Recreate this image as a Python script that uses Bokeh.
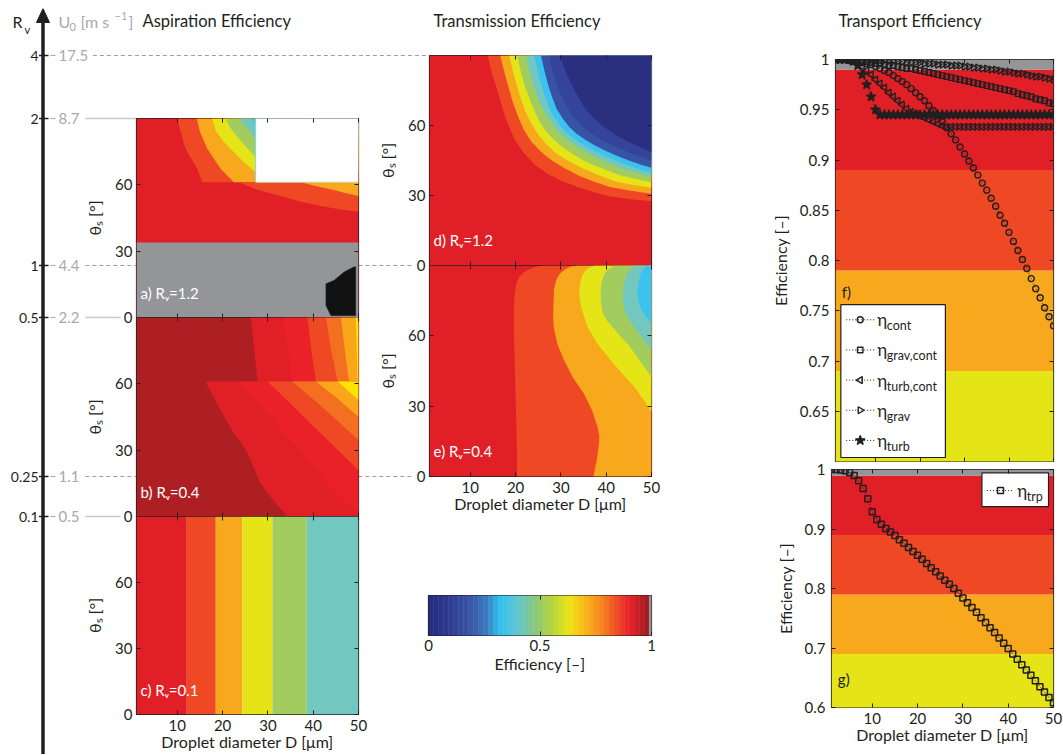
import math
from bokeh.plotting import figure
from bokeh.models import Range1d, FixedTicker, LinearAxis, CustomJSTickFormatter
from bokeh.core.properties import value
from bokeh.embed import file_html
from bokeh.resources import INLINE

FONT = "Lato"
INK = "#231F20"

# ============================ DATA ============================
D = list(range(1, 51))  # droplet diameter samples [um]

eta_cont = [1.000, 1.000, 1.000, 0.999, 0.999, 0.998, 0.997, 0.996, 0.995, 0.993,
            0.991, 0.989, 0.987, 0.984, 0.981, 0.978, 0.975, 0.971, 0.967, 0.963,
            0.959, 0.954, 0.949, 0.944, 0.938, 0.932, 0.926, 0.920, 0.913, 0.906,
            0.899, 0.892, 0.885, 0.877, 0.870, 0.862, 0.854, 0.845, 0.837, 0.828,
            0.819, 0.810, 0.801, 0.792, 0.782, 0.772, 0.763, 0.753, 0.744, 0.735]
eta_grav_cont = [1.000, 1.000, 1.000, 0.999, 0.999, 0.999, 0.998, 0.998, 0.997, 0.996,
                 0.996, 0.995, 0.994, 0.994, 0.993, 0.992, 0.991, 0.991, 0.990, 0.989,
                 0.988, 0.987, 0.986, 0.985, 0.984, 0.983, 0.982, 0.981, 0.980, 0.979,
                 0.978, 0.977, 0.976, 0.975, 0.974, 0.973, 0.972, 0.971, 0.970, 0.969,
                 0.968, 0.966, 0.965, 0.964, 0.963, 0.961, 0.960, 0.959, 0.957, 0.956]
eta_turb_cont = [1.000, 1.000, 1.000, 1.000, 0.999, 0.997, 0.993, 0.989, 0.985, 0.980,
                 0.976, 0.972, 0.967, 0.963, 0.959, 0.955, 0.951, 0.948, 0.946, 0.944,
                 0.942, 0.940, 0.938, 0.936, 0.934, 0.933, 0.933, 0.933, 0.933, 0.933,
                 0.933, 0.933, 0.933, 0.933, 0.933, 0.933, 0.933, 0.933, 0.933, 0.933,
                 0.933, 0.933, 0.933, 0.933, 0.933, 0.933, 0.933, 0.933, 0.933, 0.933]
eta_grav = [1.000, 1.000, 1.000, 1.000, 1.000, 1.000, 0.999, 0.999, 0.999, 0.999,
            0.999, 0.999, 0.998, 0.998, 0.998, 0.998, 0.997, 0.997, 0.997, 0.997,
            0.996, 0.996, 0.996, 0.995, 0.995, 0.995, 0.994, 0.994, 0.994, 0.993,
            0.993, 0.992, 0.992, 0.991, 0.991, 0.990, 0.990, 0.989, 0.988, 0.988,
            0.987, 0.986, 0.986, 0.985, 0.984, 0.983, 0.983, 0.982, 0.981, 0.980]
eta_turb = [1.000, 1.000, 1.000, 1.000, 0.998, 0.994, 0.985, 0.975, 0.963, 0.950,
            0.945, 0.945, 0.945, 0.945, 0.945, 0.945, 0.945, 0.945, 0.945, 0.945,
            0.945, 0.945, 0.945, 0.945, 0.945, 0.945, 0.945, 0.945, 0.945, 0.945,
            0.945, 0.945, 0.945, 0.945, 0.945, 0.945, 0.945, 0.945, 0.945, 0.945,
            0.945, 0.945, 0.945, 0.945, 0.945, 0.945, 0.945, 0.945, 0.945, 0.945]
eta_trp = [1.000, 1.000, 0.999, 0.998, 0.995, 0.990, 0.981, 0.968, 0.951, 0.929,
           0.916, 0.908, 0.901, 0.895, 0.889, 0.882, 0.876, 0.869, 0.862, 0.856,
           0.849, 0.842, 0.835, 0.828, 0.821, 0.814, 0.807, 0.800, 0.792, 0.784,
           0.776, 0.768, 0.760, 0.751, 0.743, 0.734, 0.726, 0.717, 0.708, 0.699,
           0.690, 0.681, 0.672, 0.663, 0.654, 0.645, 0.635, 0.626, 0.617, 0.608]

D_LIM = (1, 50)
THETA_LIM = (0, 90)
EFF_LIM = (0.6, 1.0)
x_ticks = [10, 20, 30, 40, 50]
theta_ticks = [0, 30, 60]
eff_ticks_f = [0.65, 0.7, 0.75, 0.8, 0.85, 0.9, 0.95, 1.0]
eff_ticks_g = [0.6, 0.7, 0.8, 0.9, 1.0]
cbar_ticks = [0, 0.5, 1]

# contour levels of efficiency used as background of the transport panels
eff_levels = [0.59, 0.69, 0.79, 0.89, 0.99, 1.00]

# left R_v / U_0 scale
rv_labels = ["4", "2", "1", "0.5", "0.25", "0.1"]
u0_labels = ["17.5", "8.7", "4.4", "2.2", "1.1", "0.5"]

# panel c (R_v=0.1): band edges along D
c_edges = [12.1, 18.5, 24.4, 31.0, 38.6]

# panel a (R_v=1.2): contour boundaries (D, theta)
a_kink = 61.2
a_gray_top = 33.9
a_white_left = 27.3
a_upper = [
    [(10.0, 90), (10.6, 85), (11.8, 76.4), (14.4, 67.2), (15.5, 61.2)],
    [(14.3, 90), (15.0, 84), (16.6, 76.4), (19.6, 67.2), (22.5, 61.2)],
    [(17.7, 90), (18.5, 84.5), (20.3, 79.4), (24.7, 70.2), (27.3, 65.7)],
    [(20.7, 90), (21.6, 86), (22.9, 82.5), (25.5, 76.4), (27.3, 72.6)],
    [(23.6, 90), (25.5, 85.5), (27.3, 81.0)],
    [(26.2, 90), (27.3, 87.8)],
]
a_lower = [
    [(23.6, 61.2), (28.0, 57.5), (32.8, 55.0), (37.0, 52.5), (41.7, 50.4), (46.0, 48.8), (50, 47.8)],
    [(37.2, 61.2), (40.5, 59.5), (43.9, 58.0), (47.0, 56.3), (50, 55.0)],
]
a_blob = [(42.8, 15.3), (44.6, 16.8), (46.8, 20.6), (49.0, 22.9), (49.4, 22.9),
          (49.4, 0.8), (43.9, 0.8), (42.8, 5.4)]

# panel b (R_v=0.4)
b_upper = [
    [(26.2, 90), (27.0, 75), (27.7, 61)],
    [(33.2, 90), (34.3, 75), (35.4, 61)],
    [(38.7, 90), (39.6, 75), (40.6, 61)],
    [(42.8, 90), (44.0, 75), (45.4, 61)],
    [(46.1, 90), (47.0, 75), (47.9, 61)],
    [(49.4, 90), (49.6, 75), (49.8, 61)],
]
b_lower = [
    [(16.2, 61), (19.0, 50), (22.5, 37.6), (25.2, 30), (28.4, 14.9), (31.3, 7), (34.3, 0)],
    [(23.6, 61), (27.5, 52), (33.6, 37.6), (38.0, 28), (42.4, 16.4), (46.5, 8), (50, 1.2)],
    [(29.9, 61), (34.0, 53), (40.9, 39.1), (45.5, 30), (50, 20.9)],
    [(35.4, 61), (40.0, 53), (45.0, 44), (50, 34.5)],
    [(40.6, 61), (45.0, 54), (50, 45.0)],
    [(45.4, 61), (50, 52.7)],
]

# panel d (transmission, R_v=1.2)
d_curves = [
    [(13.8, 90), (14.8, 82), (16.0, 75), (17.0, 68), (18.2, 61), (19.8, 54), (21.9, 48), (24.2, 43.3),
     (27.0, 39.3), (30.2, 36.2), (33.7, 33.6), (37.3, 31.4), (41.0, 29.6), (45.5, 28.4), (50, 27.5)],
    [(16.6, 90), (17.5, 83), (18.5, 76), (19.4, 70), (20.5, 64), (21.8, 58.3), (23.5, 53), (25.6, 48.7),
     (28.0, 45), (31.0, 41.5), (34.0, 38.5), (37.5, 35.8), (41.0, 33.5), (45.5, 32), (50, 30.8)],
    [(18.6, 90), (19.4, 83.5), (20.3, 77), (21.2, 71.3), (22.2, 66), (23.5, 60.8), (25.0, 56), (26.9, 51.8),
     (29.0, 48), (31.9, 44.5), (35.0, 41.5), (38.5, 38.6), (42.0, 36.0), (46.0, 34.5), (50, 33.3)],
    [(20.4, 90), (21.1, 83.5), (22.0, 77), (23.0, 71.8), (24.0, 67), (25.1, 62.3), (26.5, 58), (28.4, 54),
     (30.5, 50.5), (33.1, 47.1), (36.0, 44), (39.5, 41.2), (43.0, 38.7), (46.5, 37.1), (50, 35.7)],
    [(22.3, 90), (23.0, 84), (23.8, 78), (24.7, 72.9), (25.8, 68), (27.1, 63.6), (28.5, 59.5), (30.1, 56),
     (32.0, 53), (34.4, 49.9), (37.0, 47), (40.2, 44.1), (43.5, 41.5), (46.8, 39.6), (50, 37.9)],
    [(24.1, 90), (24.8, 84), (25.6, 78), (26.5, 72.4), (27.5, 67), (28.7, 63), (30.0, 59.5), (31.6, 56.3),
     (33.5, 53.5), (35.6, 50.9), (38.0, 48.5), (41.0, 45.9), (44.0, 43.5), (47.0, 41.5), (50, 39.7)],
    [(25.6, 90), (26.3, 84), (27.1, 78), (28.0, 72.4), (29.1, 67), (30.4, 63), (31.8, 59.5), (33.4, 56.6),
     (35.3, 54), (37.3, 51.6), (39.5, 49.5), (42.2, 47.1), (45.0, 45), (47.5, 43.3), (50, 41.9)],
    [(27.4, 90), (28.1, 84), (29.0, 78), (30.1, 72.8), (31.3, 68), (32.7, 64), (34.2, 60.5), (36.0, 57.6),
     (38.0, 55), (40.2, 52.6), (42.5, 50.5), (46.2, 47.6), (50, 45.0)],
    [(29.8, 90), (30.8, 84.5), (32.0, 79), (33.5, 73.4), (35.1, 68), (36.7, 64.2), (38.5, 61), (40.2, 58.4),
     (42.0, 56), (44.0, 53.9), (46.0, 52), (48.0, 50.2), (50, 48.5)],
]

# panel e (transmission, R_v=0.4)
e_curves = [
    [(26.3, 90), (24.7, 89.6), (23.4, 88.7), (21.9, 87.2), (20.8, 85.2), (20.1, 82), (19.8, 78), (19.6, 71),
     (19.6, 64), (19.7, 57), (19.8, 50), (19.9, 42), (20.0, 35), (20.1, 27), (20.2, 20), (20.3, 10), (20.3, 0)],
    [(34.0, 90), (32.3, 89.6), (31.0, 88.5), (29.8, 86.6), (29.0, 84), (28.5, 80), (28.4, 75), (28.3, 69.5),
     (28.4, 64), (29.2, 56.5), (30.7, 49.6), (32.7, 42), (35.1, 35.3), (36.9, 28), (38.1, 21.1), (38.5, 17),
     (38.4, 14), (38.0, 8), (37.5, 3), (37.2, 0)],
    [(37.5, 90), (36.3, 89.2), (35.5, 88), (34.7, 85.7), (34.3, 83), (34.0, 78), (34.5, 72), (35.9, 63.8),
     (38.1, 56.5), (41.0, 49.6), (43.6, 43.7), (46.2, 38.3), (48.2, 32.8), (50, 27.5)],
    [(42.0, 90), (40.7, 88.8), (39.8, 87), (39.1, 83.8), (38.8, 80), (38.8, 75), (39.2, 70), (40.1, 66.7),
     (41.4, 63.8), (43.1, 59.8), (45.0, 56), (47.5, 49.2), (50, 42.4)],
    [(46.5, 90), (45.3, 88.3), (44.5, 86), (43.9, 82.2), (43.6, 78), (43.7, 74), (44.2, 70), (45.2, 66.3),
     (46.5, 63), (48.2, 58.4), (50, 53.8)],
    [(49.0, 90), (48.1, 88.3), (47.5, 86), (47.1, 82.2), (46.9, 78), (47.2, 74.3), (47.8, 71), (48.8, 68),
     (50, 65.3)],
]

panel_tags = ["a) R\u1d65=1.2", "b) R\u1d65=0.4", "c) R\u1d65=0.1", "d) R\u1d65=1.2", "e) R\u1d65=0.4"]
f_legend = ["cont", "grav,cont", "turb,cont", "grav", "turb"]
g_legend = ["trp"]
titles = ["Aspiration Efficiency", "Transmission Efficiency", "Transport Efficiency"]

# ============================ STYLE ============================
RED, ORED, ORANGE, YELLOW = "#E01F26", "#EE4824", "#F8A81D", "#E5E417"
GREEN, TEAL, CYAN = "#A3CC5E", "#72C8C0", "#3BC2EE"
BLUE, BLUE2, NAVY = "#3953A4", "#33449A", "#2B2F7F"
GRAY, DARKRED, BRED = "#939598", "#AE1F24", "#EA2128"
ORANGE2, OYELLOW, BYELLOW = "#F37021", "#F9A61B", "#FFE400"
eff_colors = [YELLOW, ORANGE, ORED, RED, GRAY]

cb_stops = [0.00, 0.08, 0.18, 0.26, 0.32, 0.40, 0.48, 0.56, 0.63, 0.70, 0.77, 0.84, 0.90, 0.95, 0.99]
cb_anchor = ["#252B7B", "#2C388D", "#3953A4", "#3B79BE", "#2FC1EF", "#62C5D3", "#8BC77C", "#B9D53A",
             "#ECE61A", "#F9B81B", "#F58C20", "#F05024", "#E8222A", "#C11E26", "#961B1F"]

TICK_FS, LABEL_FS, TITLE_FS = "15px", "16px", "16.5px"

# ============================ LAYOUT (page pixels, inside the 8px body margin) ============================
MARGIN = 8
W, H = 1047, 746          # usable drawing area (bottom/right limits of the window)
X_LIMIT = 1054
AX_X = 34.5
LEFT_X, MID_X, RIGHT_X = 128, 421, 823
FW, FW_R = 222, 222
A_TOP, A_H = 110, 199
B_TOP, B_H = 309, 199
C_TOP, C_H = 508, 198
D_TOP, D_H = 47, 210
E_TOP, E_H = 257, 211
F_TOP, F_H = 51, 402
G_TOP, G_H = 461, 238
CB_X, CB_W, CB_TOP, CB_H = 420, 223, 587, 40


def hex_rgb(h):
    h = h.lstrip("#")
    return [int(h[i:i + 2], 16) for i in (0, 2, 4)]


def cmap(v):
    for i in range(len(cb_stops) - 1):
        if v <= cb_stops[i + 1]:
            t = (v - cb_stops[i]) / (cb_stops[i + 1] - cb_stops[i])
            c1, c2 = hex_rgb(cb_anchor[i]), hex_rgb(cb_anchor[i + 1])
            return "#%02x%02x%02x" % tuple(round(a + (b - a) * t) for a, b in zip(c1, c2))
    return cb_anchor[-1]


def abs_style(x, y):
    return {"position": "absolute", "left": "%dpx" % (x + MARGIN), "top": "%dpx" % (y + MARGIN)}


def style_axis(ax, ticks, show_labels=True, label=None, standoff=4, label_standoff=8, fmt=None):
    ax.ticker = FixedTicker(ticks=ticks)
    ax.major_tick_in = 4
    ax.major_tick_out = 0
    ax.minor_tick_line_color = None
    ax.axis_line_color = None
    ax.major_tick_line_color = INK
    ax.major_tick_line_width = 1
    ax.major_label_text_font = FONT
    ax.major_label_text_color = INK
    if show_labels:
        ax.major_label_text_font_size = TICK_FS
        ax.major_label_standoff = standoff
        if fmt is not None:
            ax.formatter = CustomJSTickFormatter(code=fmt)
    else:
        ax.major_label_text_font_size = "0px"
        ax.major_label_standoff = 0
        ax.formatter = CustomJSTickFormatter(code="return '';")
    if label:
        ax.axis_label = label
        ax.axis_label_text_font = FONT
        ax.axis_label_text_font_size = LABEL_FS
        ax.axis_label_text_font_style = "normal"
        ax.axis_label_text_color = INK
        ax.axis_label_standoff = label_standoff


def make_panel(fx, fy, fw, fh, xr, yr, lb=64, tb=12, rb=12, bb=12):
    p = figure(width=lb + fw + rb, height=tb + fh + bb, x_range=Range1d(*xr), y_range=Range1d(*yr),
               x_axis_location=None, y_axis_location=None, output_backend="svg",
               toolbar_location=None, min_border_left=lb, min_border_top=tb,
               min_border_right=rb, min_border_bottom=bb, styles=abs_style(fx - lb, fy - tb))
    p.border_fill_color = None
    p.background_fill_color = "white"
    p.outline_line_color = INK
    p.outline_line_width = 1.2
    p.grid.visible = False
    return p


def add_axes(p, xt, yt, xlab=False, ylab=True, xlabel=None, ylabel=None, yfmt=None,
             right=True, y_standoff=4, y_label_standoff=8, x_standoff=5, x_label_standoff=-2):
    ax = LinearAxis()
    style_axis(ax, yt, ylab, ylabel, standoff=y_standoff, label_standoff=y_label_standoff, fmt=yfmt)
    p.add_layout(ax, "left")
    if right:
        ax = LinearAxis()
        style_axis(ax, yt, False)
        p.add_layout(ax, "right")
    ax = LinearAxis()
    style_axis(ax, xt, xlab, xlabel, standoff=x_standoff, label_standoff=x_label_standoff)
    p.add_layout(ax, "below")
    ax = LinearAxis()
    style_axis(ax, xt, False)
    p.add_layout(ax, "above")


def add_regions(p, curves, colors):
    xs, ys = [], []
    for c in curves:
        xs.append([pt[0] for pt in c] + [D_LIM[1], D_LIM[1]])
        ys.append([pt[1] for pt in c] + [c[-1][1], c[0][1]])
    p.patches(xs=xs, ys=ys, fill_color=colors, line_color=None)


def add_tag(p, txt, x, y, color="white"):
    p.text(x=[x], y=[y], text=[txt], text_font=value(FONT), text_font_size="15px",
           text_color=color, text_align="left", text_baseline="middle")


THETA_LABEL = "\u03b8\u209b [\u00b0]"
D_LABEL = "Droplet diameter D [\u03bcm]"
E_LABEL = "Efficiency [\u2013]"

# ---------------- background / annotation layer ----------------
bg = figure(width=W, height=H, x_range=Range1d(0, W), y_range=Range1d(H, 0),
            x_axis_location=None, y_axis_location=None, output_backend="svg",
            toolbar_location=None, min_border_left=0, min_border_right=0,
            min_border_top=0, min_border_bottom=0, styles=abs_style(0, 0))
bg.outline_line_color = None
bg.grid.visible = False
bg.background_fill_color = "white"
bg.border_fill_color = "white"

rv_y = [D_TOP, A_TOP, E_TOP, B_TOP, E_TOP + E_H, C_TOP]
rv_dashed = [True, False, True, False, True, False]
rv_end = [MID_X, LEFT_X, MID_X - 17, LEFT_X - 16, MID_X - 17, LEFT_X - 16]
line_start = [50 + 7.6 * len(u) + 4 for u in u0_labels]

dsel = [i for i in range(6) if rv_dashed[i]]
ssel = [i for i in range(6) if not rv_dashed[i]]
bg.segment(x0=[line_start[i] for i in dsel], x1=[rv_end[i] for i in dsel],
           y0=[rv_y[i] for i in dsel], y1=[rv_y[i] for i in dsel],
           line_color="#9D9FA2", line_dash="4 3", line_width=1)
bg.segment(x0=[line_start[i] for i in ssel], x1=[rv_end[i] for i in ssel],
           y0=[rv_y[i] for i in ssel], y1=[rv_y[i] for i in ssel],
           line_color="#C7C8CA", line_width=1.4)
bg.segment(x0=[42] * 6, x1=[47] * 6, y0=rv_y, y1=rv_y, line_color="#A7A9AC", line_width=1.2)
bg.segment(x0=[30.5] * 6, x1=[40] * 6, y0=rv_y, y1=rv_y, line_color=INK, line_width=1.5)
bg.segment(x0=[AX_X], x1=[AX_X], y0=[10], y1=[H], line_color=INK, line_width=3.5)
bg.patch(x=[AX_X - 6.5, AX_X, AX_X + 6.5], y=[14, 0, 14], fill_color=INK, line_color=INK)
bg.text(x=[30] * 6, y=rv_y, text=rv_labels, text_font=value(FONT), text_font_size="14px",
        text_color=INK, text_align="right", text_baseline="middle")
bg.text(x=[50] * 6, y=rv_y, text=u0_labels, text_font=value(FONT), text_font_size="15px",
        text_color="#A7A9AC", text_align="left", text_baseline="middle")
bg.text(x=[4], y=[12.5], text=["R"], text_font=value(FONT), text_font_size="16px",
        text_color=INK, text_baseline="middle")
bg.text(x=[16], y=[21], text=["v"], text_font=value(FONT), text_font_size="11px",
        text_color=INK, text_baseline="middle")
hdr_gray = "#A7A9AC"
bg.text(x=[50, 72, 120], y=[12.5, 12.5, 12.5], text=["U", "[m s", "]"], text_font=value(FONT),
        text_font_size="16px", text_color=hdr_gray, text_baseline="middle")
bg.text(x=[61], y=[18.5], text=["0"], text_font=value(FONT), text_font_size="11px",
        text_color=hdr_gray, text_baseline="middle")
bg.text(x=[106], y=[7], text=["\u22121"], text_font=value(FONT), text_font_size="11px",
        text_color=hdr_gray, text_baseline="middle")
bg.text(x=[134, 425, 830], y=[12.5, 12.5, 12.5], text=titles, text_font=value(FONT),
        text_font_size=TITLE_FS, text_color=INK, text_baseline="middle")

# ---------------- panel a ----------------
pa = make_panel(LEFT_X, A_TOP, FW, A_H, D_LIM, THETA_LIM)
pa.quad(left=D_LIM[0], right=D_LIM[1], bottom=THETA_LIM[0], top=THETA_LIM[1], fill_color=RED, line_color=None)
add_regions(pa, a_upper, [ORED, ORANGE, YELLOW, GREEN, TEAL, CYAN])
add_regions(pa, a_lower, [ORED, ORANGE])
pa.quad(left=a_white_left, right=D_LIM[1], bottom=a_kink, top=THETA_LIM[1], fill_color="white", line_color=None)
# faint contour edges along the blank (undefined) area
pa.line([a_white_left, a_white_left], [THETA_LIM[1], a_kink], line_color="#7FD3E8", line_width=1)
pa.line([a_white_left, D_LIM[1]], [a_kink, a_kink], line_color="#C9DDB0", line_width=1)
pa.quad(left=D_LIM[0], right=D_LIM[1], bottom=THETA_LIM[0], top=a_gray_top, fill_color=GRAY, line_color=None)
pa.patch(x=[pt[0] for pt in a_blob], y=[pt[1] for pt in a_blob], fill_color="#111111",
         line_color="#333333", line_width=0.5)
add_tag(pa, panel_tags[0], 1.9, 11)
add_axes(pa, x_ticks, theta_ticks, ylabel=THETA_LABEL)

# ---------------- panel b ----------------
pb = make_panel(LEFT_X, B_TOP, FW, B_H, D_LIM, THETA_LIM)
pb.quad(left=D_LIM[0], right=D_LIM[1], bottom=THETA_LIM[0], top=THETA_LIM[1], fill_color=DARKRED, line_color=None)
b_cols = [RED, BRED, ORED, ORANGE2, OYELLOW, BYELLOW]
add_regions(pb, b_upper, b_cols)
add_regions(pb, b_lower, b_cols)
add_tag(pb, panel_tags[1], 1.9, 11)
add_axes(pb, x_ticks, theta_ticks, ylabel=THETA_LABEL)

# ---------------- panel c ----------------
pc = make_panel(LEFT_X, C_TOP, FW, C_H, D_LIM, THETA_LIM, bb=H - C_TOP - C_H)
c_left = [D_LIM[0]] + c_edges
c_right = c_edges + [D_LIM[1]]
pc.quad(left=c_left, right=c_right, bottom=THETA_LIM[0], top=THETA_LIM[1],
        fill_color=[RED, ORED, ORANGE, YELLOW, GREEN, TEAL], line_color=None)
add_tag(pc, panel_tags[2], 1.9, 11)
add_axes(pc, x_ticks, theta_ticks, xlab=True, xlabel=D_LABEL, ylabel=THETA_LABEL)

# ---------------- panel d ----------------
pd_ = make_panel(MID_X, D_TOP, FW, D_H, D_LIM, THETA_LIM)
pd_.quad(left=D_LIM[0], right=D_LIM[1], bottom=THETA_LIM[0], top=THETA_LIM[1], fill_color=RED, line_color=None)
add_regions(pd_, d_curves, [ORED, ORANGE, YELLOW, GREEN, TEAL, CYAN, BLUE, BLUE2, NAVY])
add_tag(pd_, panel_tags[3], 1.9, 11)
add_axes(pd_, x_ticks, theta_ticks, ylabel=THETA_LABEL)

# ---------------- panel e ----------------
pe = make_panel(MID_X, E_TOP, FW, E_H, D_LIM, THETA_LIM, bb=46)
pe.quad(left=D_LIM[0], right=D_LIM[1], bottom=THETA_LIM[0], top=THETA_LIM[1], fill_color=RED, line_color=None)
add_regions(pe, e_curves, [ORED, ORANGE, YELLOW, GREEN, TEAL, CYAN])
add_tag(pe, panel_tags[4], 1.9, 11)
add_axes(pe, x_ticks, theta_ticks, xlab=True, xlabel=D_LABEL, ylabel=THETA_LABEL)

# ---------------- colour bar ----------------
pcb = make_panel(CB_X, CB_TOP, CB_W, CB_H, (0, 1), (0, 1), lb=12, rb=12, bb=46)
n_cb = 44
w_cb = 0.99 / n_cb
cb_left = [i * w_cb for i in range(n_cb)] + [0.99]
cb_right = [(i + 1) * w_cb for i in range(n_cb)] + [1.0]
cb_cols = [cmap((i + 0.5) * w_cb) for i in range(n_cb)] + [GRAY]
pcb.quad(left=cb_left, right=cb_right, bottom=0, top=1, fill_color=cb_cols, line_color=cb_cols, line_width=0.5)
ax = LinearAxis()
style_axis(ax, cbar_ticks, True, E_LABEL, standoff=4, label_standoff=0,
           fmt="return String(Math.round(tick*100)/100);")
pcb.add_layout(ax, "below")
ax = LinearAxis()
style_axis(ax, [0.5], False)
pcb.add_layout(ax, "above")

# ---------------- panel f ----------------
EFMT = "return String(Math.round(tick*100)/100);"
pf = make_panel(RIGHT_X, F_TOP, FW_R, F_H, D_LIM, EFF_LIM, rb=X_LIMIT - RIGHT_X - FW_R)
pf.quad(left=D_LIM[0], right=D_LIM[1], bottom=eff_levels[:-1], top=eff_levels[1:],
        fill_color=eff_colors, line_color=None)
f_series = [eta_cont, eta_grav_cont, eta_turb_cont, eta_grav, eta_turb]
f_markers = ["circle", "square", "triangle", "triangle", "star"]
f_angles = [0, 0, math.pi / 2, -math.pi / 2, 0]
f_sizes = [6, 5.5, 7, 7, 10]
f_fills = [None, None, None, None, INK]
for ser, mk, ang, sz, fc in zip(f_series, f_markers, f_angles, f_sizes, f_fills):
    pf.line(D, ser, line_color=INK, line_dash="1 2", line_width=1)
    pf.scatter(D, ser, marker=mk, angle=ang, size=sz, line_color=INK, line_width=1.4, fill_color=fc)
pf.quad(left=2.2, right=25.7, bottom=0.604, top=0.756, fill_color="white", line_color=INK, line_width=1.2)
for i, (lab, mk, ang, sz, fc) in enumerate(zip(f_legend, f_markers, f_angles, f_sizes, f_fills)):
    yy = 0.741 - 0.030 * i
    pf.line([3.4, 9.7], [yy, yy], line_color=INK, line_dash="1 2", line_width=1)
    pf.scatter([6.56], [yy], marker=mk, angle=ang, size=sz, line_color=INK, line_width=1.4, fill_color=fc)
    pf.text(x=[10.4], y=[yy], text=["\u03b7"], text_font=value(FONT), text_font_size="17px",
            text_color=INK, text_baseline="middle")
    pf.text(x=[10.4], y=[yy], text=[lab], x_offset=9.5, y_offset=6, text_font=value(FONT),
            text_font_size="12.5px", text_color=INK, text_baseline="middle")
add_tag(pf, "f)", 2.4, 0.769, color=INK)
add_axes(pf, x_ticks, eff_ticks_f, ylabel=E_LABEL, yfmt=EFMT, y_standoff=6, y_label_standoff=7)

# ---------------- panel g ----------------
pg = make_panel(RIGHT_X, G_TOP, FW_R, G_H, D_LIM, EFF_LIM, rb=X_LIMIT - RIGHT_X - FW_R,
                bb=H - G_TOP - G_H)
pg.quad(left=D_LIM[0], right=D_LIM[1], bottom=eff_levels[:-1], top=eff_levels[1:],
        fill_color=eff_colors, line_color=None)
pg.line(D, eta_trp, line_color=INK, line_dash="1 2", line_width=1)
pg.scatter(D, eta_trp, marker="square", size=6, line_color=INK, line_width=1.5, fill_color=None)
pg.quad(left=34.2, right=48.9, bottom=0.9377, top=0.9944, fill_color="white", line_color=INK, line_width=1.2)
pg.line([35.3, 41.2], [0.9646, 0.9646], line_color=INK, line_dash="1 2", line_width=1)
pg.scatter([38.3], [0.9646], marker="square", size=6, line_color=INK, line_width=1.5, fill_color=None)
pg.text(x=[42.0], y=[0.9646], text=["\u03b7"], text_font=value(FONT), text_font_size="17px",
        text_color=INK, text_baseline="middle")
pg.text(x=[42.0], y=[0.9646], text=g_legend, x_offset=9.5, y_offset=6, text_font=value(FONT),
        text_font_size="12.5px", text_color=INK, text_baseline="middle")
add_tag(pg, "g)", 2.4, 0.648, color=INK)
add_axes(pg, x_ticks, eff_ticks_g, xlab=True, xlabel=D_LABEL, ylabel=E_LABEL,
         yfmt=EFMT, y_standoff=6, y_label_standoff=7)

roots = [bg, pa, pb, pc, pd_, pe, pcb, pf, pg]
open("out.html", "w").write(file_html(roots, INLINE))
